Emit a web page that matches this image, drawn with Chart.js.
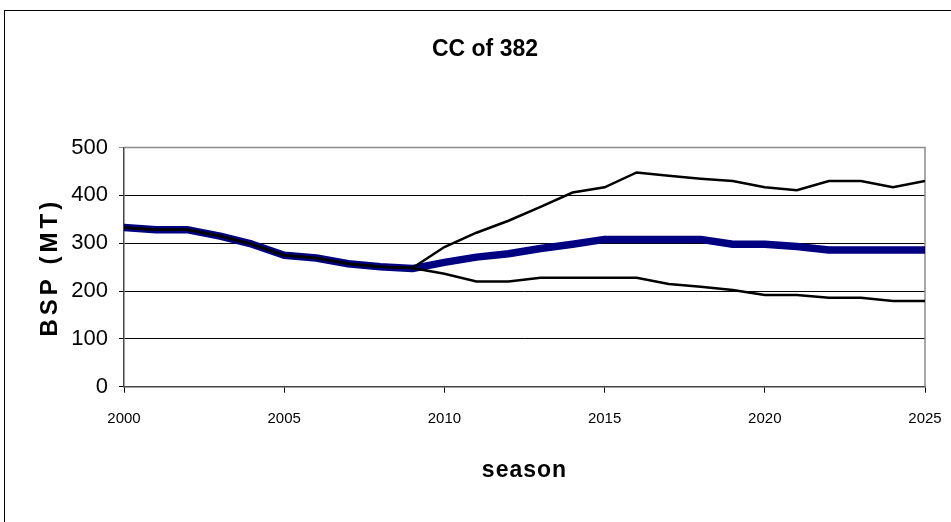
<!DOCTYPE html>
<html><head><meta charset="utf-8">
<script src="https://cdn.jsdelivr.net/npm/chart.js@4/dist/chart.umd.min.js"></script>
<style>
html,body{margin:0;padding:0;background:#fff;overflow:hidden;width:951px;height:522px}
#frame{position:absolute;left:4px;top:10px;width:1200px;height:800px;border:1px solid #000;box-sizing:border-box}
#c{position:absolute;left:0;top:0}
</style></head><body>
<div id="frame"></div>
<canvas id="c" width="951" height="522"></canvas>
<script>
const seasons = [2000,2001,2002,2003,2004,2005,2006,2007,2008,2009,2010,2011,2012,2013,2014,2015,2016,2017,2018,2019,2020,2021,2022,2023,2024,2025];
const upperBSP  = [333,328,328,315,298,275,269,257,251,248,292,322,347,376,406,417,448,441,435,430,417,411,430,430,417,430];
const lowerBSP  = [333,328,328,315,298,275,269,257,251,248,236,220,220,228,228,228,228,215,209,202,192,192,186,186,179,179];
const medianBSP = [333,328,328,315,298,275,269,257,251,247,260,271,278,289,298,308,308,308,308,298,298,293,286,286,286,286];
const xTickValues = [2000,2005,2010,2015,2020,2025];
const yTickValues = [0,100,200,300,400,500];
const chartTitle = 'CC of 382';
const xTitle = 'season';
const yTitle = 'BSP (MT)';

const FONT = '"Liberation Sans", Arial, sans-serif';
const SPACING = { x: '1px', y: '4px' };

class SpacedLinearScale extends Chart.LinearScale {
  drawTitle() {
    const ctx = this.ctx;
    ctx.save();
    ctx.letterSpacing = SPACING[this.id] || '0px';
    super.drawTitle();
    ctx.restore();
  }
}
SpacedLinearScale.id = 'spacedLinear';
SpacedLinearScale.defaults = Chart.LinearScale.defaults;
Chart.register(SpacedLinearScale);

const plotFrame = {
  id: 'plotFrame',
  beforeDatasetsDraw(chart) {
    const {ctx, chartArea: a} = chart;
    ctx.save();
    ctx.strokeStyle = '#8c8c8c';
    ctx.lineWidth = 1.5;
    ctx.beginPath();
    ctx.moveTo(a.left, a.top);
    ctx.lineTo(a.right, a.top);
    ctx.lineTo(a.right, a.bottom);
    ctx.stroke();
    ctx.restore();
  }
};

const pts = arr => seasons.map((s, i) => ({x: s, y: arr[i]}));

new Chart(document.getElementById('c'), {
  type: 'line',
  data: {
    datasets: [
      { label: 'upper', data: pts(upperBSP), borderColor: '#000000', borderWidth: 2.5, order: 0 },
      { label: 'lower', data: pts(lowerBSP), borderColor: '#000000', borderWidth: 2.5, order: 1 },
      { label: 'median', data: pts(medianBSP), borderColor: '#000080', borderWidth: 7.5, order: 2,
        borderCapStyle: 'round', borderJoinStyle: 'round' }
    ]
  },
  options: {
    responsive: false,
    animation: false,
    devicePixelRatio: 1,
    layout: { padding: { left: 19, right: 0, top: 0, bottom: 0 } },
    elements: { point: { radius: 0 }, line: { tension: 0, fill: false } },
    plugins: {
      legend: { display: false },
      tooltip: { enabled: false },
      title: {
        display: true, text: chartTitle, color: '#000',
        font: { family: FONT, size: 23, weight: 'bold' },
        padding: { top: 36, bottom: 84 }
      }
    },
    scales: {
      x: {
        type: 'spacedLinear', min: 2000, max: 2025,
        afterBuildTicks: s => { s.ticks = xTickValues.map(v => ({ value: v })); },
        afterFit: s => { s.height = 135.3; s.paddingRight = 26; },
        ticks: { color: '#000', font: { family: FONT, size: 15 }, padding: 17, maxRotation: 0,
                 callback: v => String(v) },
        grid: { drawOnChartArea: false, drawTicks: true, tickLength: 6, color: '#000', tickWidth: 1 },
        border: { display: true, color: '#444', width: 1.5 },
        title: { display: true, text: xTitle, color: '#000',
                 font: { family: FONT, size: 23, weight: 'bold' },
                 padding: { top: 0, bottom: 38 } }
      },
      y: {
        type: 'spacedLinear', min: 0, max: 500,
        afterBuildTicks: s => { s.ticks = yTickValues.map(v => ({ value: v })); },
        afterFit: s => { s.width = 105; },
        ticks: { color: '#000', font: { family: FONT, size: 22 }, padding: 11 },
        grid: { color: ctx => (ctx.tick && ctx.tick.value === 500) ? '#8c8c8c' : '#000',
                lineWidth: 1, tickLength: 5 },
        border: { display: true, color: '#444', width: 1.5 },
        title: { display: true, text: yTitle, color: '#000',
                 font: { family: FONT, size: 24, weight: 'bold' },
                 padding: { top: 17, bottom: 0 } }
      }
    }
  },
  plugins: [plotFrame]
});
</script>
</body></html>
